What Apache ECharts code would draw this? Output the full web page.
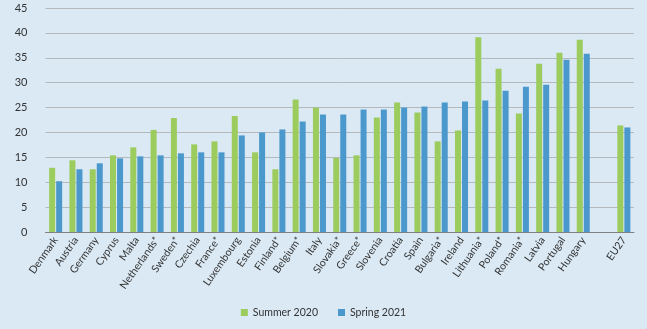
<!DOCTYPE html>
<html><head><meta charset="utf-8">
<script src="https://cdn.jsdelivr.net/npm/echarts@6/dist/echarts.min.js"></script>
<style>html,body{margin:0;padding:0;background:#dae9f4;}#c{width:647px;height:329px;}</style>
</head><body><div id="c"></div>
<script>
const categories = ["Denmark","Austria","Germany","Cyprus","Malta","Netherlands*","Sweden*","Czechia","France*","Luxembourg","Estonia","Finland*","Belgium*","Italy","Slovakia*","Greece*","Slovenia","Croatia","Spain","Bulgaria*","Ireland","Lithuania*","Poland*","Romania*","Latvia","Portugal","Hungary","","EU27"];
const summer2020 = [12.9,14.4,12.6,15.4,17.0,20.5,22.9,17.6,18.2,23.3,16.0,12.6,26.6,25.0,14.9,15.4,23.0,26.0,24.0,18.2,20.4,39.1,32.8,23.8,33.8,36.0,38.6,null,21.4];
const spring2021 = [10.2,12.6,13.8,14.8,15.2,15.4,15.8,16.0,16.0,19.4,20.0,20.6,22.2,23.6,23.6,24.6,24.6,25.0,25.2,26.0,26.2,26.4,28.4,29.2,29.6,34.6,35.8,null,21.0];
const yTicks = {min:0,max:45,interval:5};
const chart = echarts.init(document.getElementById('c'));
const font = 'Lato';
chart.setOption({
  backgroundColor:'#dae9f4',
  animation:false,
  textStyle:{fontFamily:font},
  grid:{left:45.5,right:13,top:8,bottom:97},
  legend:{bottom:6,left:'center',itemWidth:7,itemHeight:7,itemGap:20,icon:'rect',
    textStyle:{fontFamily:font,fontSize:10.5,color:'#333'},data:['Summer 2020','Spring 2021']},
  xAxis:{type:'category',data:categories,
    axisLine:{lineStyle:{color:'#808080',width:1}},axisTick:{show:false},
    axisLabel:{rotate:55,interval:0,fontSize:10.5,color:'#333',fontFamily:font,margin:6}},
  yAxis:{type:'value',min:yTicks.min,max:yTicks.max,interval:yTicks.interval,
    axisLine:{show:false},axisTick:{show:false},
    axisLabel:{fontSize:11,color:'#333',fontFamily:font,margin:18},
    splitLine:{lineStyle:{color:'#b4b9bd',width:1}}},
  series:[
    {name:'Summer 2020',type:'bar',data:summer2020,barWidth:6,barGap:'17%',itemStyle:{color:'#9ccb5e'}},
    {name:'Spring 2021',type:'bar',data:spring2021,barWidth:6,itemStyle:{color:'#4b98cd'}}
  ]
});
</script></body></html>
